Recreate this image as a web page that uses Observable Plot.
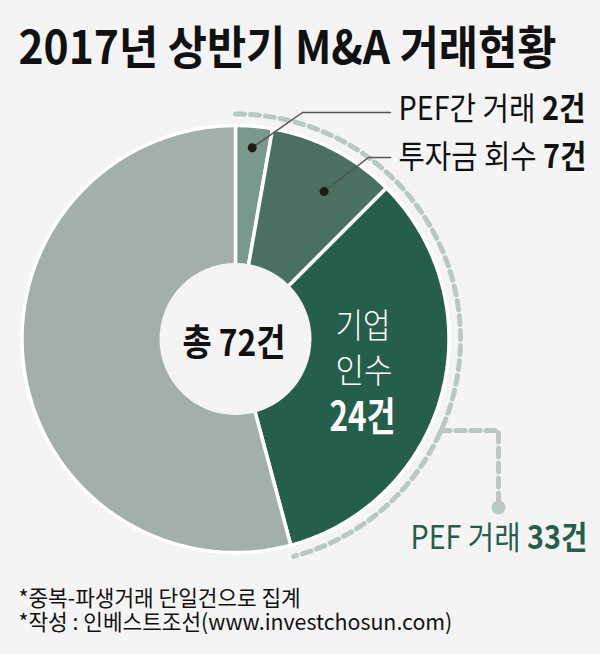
<!DOCTYPE html>
<html><head><meta charset="utf-8">
<script src="https://cdn.jsdelivr.net/npm/d3@7"></script>
<script src="https://cdn.jsdelivr.net/npm/@observablehq/plot@0.6"></script>
<style>
html,body{margin:0;padding:0;background:#f4f4f4;}
#chart svg{display:block;}
</style>
</head><body><div id="chart"></div>
<script>
// ---- data ----
const categories = ["PEF간 거래", "투자금 회수", "기업 인수", "기타"];
const values = [2, 7, 24, 39];
const total = 72;
const pefTotal = 33;
const colors = ["#78998c", "#4a7061", "#265e4c", "#a3afab"];
const titleText = "2017년 상반기 M&A 거래현황";
const notes = ["*중복-파생거래 단일건으로 집계", "*작성 : 인베스트조선(www.investchosun.com)"];

// ---- layout ----
const W = 600, H = 654;
const cx = 235, cy = 338.5, R = 213.5, R0 = 76, RD = 225;
const FONT = "'Noto Sans CJK KR', 'Noto Sans', sans-serif";
const rad = d => d * Math.PI / 180;
const pt = (a, r) => ({x: cx + r * Math.sin(rad(a)), y: cy - r * Math.cos(rad(a))});

const pie = d3.pie().sort(null).value(d => d)(values);
const slices = pie.map((p, i) => {
  const a0 = p.startAngle * 180 / Math.PI, a1 = p.endAngle * 180 / Math.PI;
  const pts = [pt(0, 0)];
  const n = Math.max(2, Math.ceil(a1 - a0));
  for (let k = 0; k <= n; k++) pts.push(pt(a0 + (a1 - a0) * k / n, R));
  pts.push(pt(0, 0));
  return {pts, color: colors[i], a0, a1};
});

// dashed arc spanning PEF-related deals
const pefAngle = pefTotal / total * 360;
const arcPts = d3.range(0, Math.ceil(pefAngle) + 1).map(a => pt(Math.min(a, pefAngle), RD));
const connAngle = 114;
const c0 = pt(connAngle, RD);
const connX = 498, connY2 = 507;
const connPts = [c0, {x: connX, y: c0.y}, {x: connX, y: connY2}];

// leaders for small slices
const anchors = [
  {slice: 0, frac: 0.5, r: 192, elbow: {x: 302, y: 112}, endX: 390},
  {slice: 1, frac: 0.6, r: 172, elbow: {x: 368, y: 157}, endX: 390}
];
const leaderDots = anchors.map(a => {
  const s = slices[a.slice];
  return pt(s.a0 + (s.a1 - s.a0) * a.frac, a.r);
});
const leaders = anchors.map((a, i) => [leaderDots[i], a.elbow, {x: a.endX, y: a.elbow.y}]);

// texts: [normal part, bold part, x, y(baseline), size, weight, color, width]
const texts = [
  ["", titleText, 18, 63, 46, 700, "#111", 538],
  [categories[0], values[0] + "건", 398, 119, 32, 400, "#111", 187],
  [categories[1], values[1] + "건", 398, 167, 32, 400, "#111", 188],
  ["", "총 " + total + "건", 182, 355, 37, 700, "#111", 103],
  [categories[2].split(" ")[0], "", 335, 337, 34, 300, "#fff", 55],
  [categories[2].split(" ")[1], "", 335, 382, 34, 300, "#fff", 57],
  ["", values[2] + "건", 329, 430, 40, 700, "#fff", 66],
  ["PEF 거래", pefTotal + "건", 410, 548, 32, 400, "#265e4c", 177],
  [notes.join("\n"), "", 18, 629, 22, 400, "#111", 434]
].map(([normal, bold, x, y, size, weight, color, width]) => ({
  normal, bold, text: [normal, bold].filter(s => s).join(" "), x, y, size, weight, color, width
}));

const marks = [];
slices.forEach(s => marks.push(Plot.line(s.pts, {x: "x", y: "y", fill: s.color, stroke: "#ffffff", strokeWidth: 3.5, strokeLinejoin: "miter"})));
marks.push(Plot.dot([pt(0, 0)], {x: "x", y: "y", r: R0, fill: "#f4f4f4", stroke: "none"}));
marks.push(Plot.line(arcPts, {x: "x", y: "y", stroke: "#b8c8c2", strokeWidth: 5, strokeDasharray: "9,6"}));
marks.push(Plot.line(connPts, {x: "x", y: "y", stroke: "#b8c8c2", strokeWidth: 5, strokeDasharray: "9,6"}));
marks.push(Plot.dot([{x: connX, y: connY2}], {x: "x", y: "y", r: 7, fill: "#b8c8c2", stroke: "none"}));
leaders.forEach(l => marks.push(Plot.line(l, {x: "x", y: "y", stroke: "#555", strokeWidth: 1.5})));
marks.push(Plot.dot(leaderDots, {x: "x", y: "y", r: 4.5, fill: "#231815", stroke: "none"}));
texts.forEach((t, i) => marks.push(Plot.text([t], {
  x: "x", y: "y", text: "text", fontSize: t.size, fontWeight: t.weight, fill: t.color,
  textAnchor: "start", lineAnchor: "bottom", lineHeight: 24 / 22, fontFamily: FONT,
  className: "lbl" + i
})));

const chart = Plot.plot({
  width: W, height: H, margin: 0,
  x: {domain: [0, W], range: [0, W], axis: null},
  y: {domain: [0, H], range: [0, H], axis: null},
  style: {background: "#f4f4f4", fontFamily: FONT},
  marks
});
document.getElementById("chart").appendChild(chart);

// bold suffixes as tspans, then condense each text horizontally to the reference width
const NS = "http://www.w3.org/2000/svg";
texts.forEach((t, i) => {
  const el = chart.querySelector(".lbl" + i + " text") || chart.querySelector("g.lbl" + i + " text");
  if (!el) return;
  if (t.normal && t.bold) {
    el.textContent = "";
    const a = document.createElementNS(NS, "tspan");
    a.textContent = t.normal + " ";
    const b = document.createElementNS(NS, "tspan");
    b.setAttribute("font-weight", 700);
    b.textContent = t.bold;
    el.appendChild(a); el.appendChild(b);
  }
  const natural = el.getBBox().width;
  const sx = t.width / natural;
  const tr = el.getAttribute("transform");
  if (tr && /translate/.test(tr)) {
    el.setAttribute("transform", tr + ` scale(${sx.toFixed(4)},1)`);
  } else {
    el.setAttribute("textLength", t.width);
    el.setAttribute("lengthAdjust", "spacingAndGlyphs");
  }
});
</script></body></html>
